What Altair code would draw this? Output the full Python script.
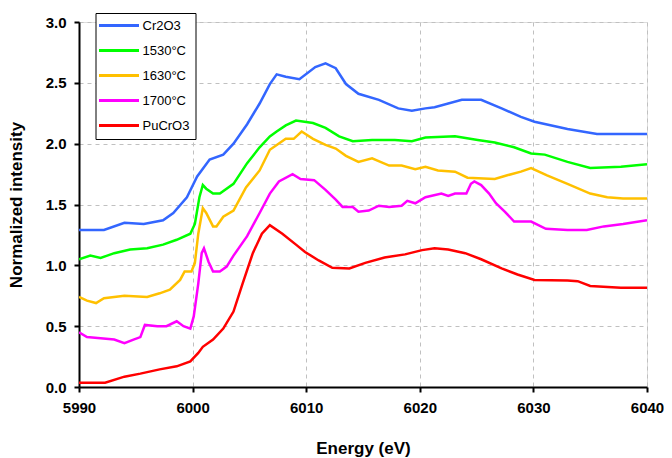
import altair as alt
import pandas as pd

series_names = ["Cr2O3", "1530°C", "1630°C", "1700°C", "PuCrO3"]
series_colors = ["#3366FF", "#00FF00", "#FFC000", "#FF00FF", "#FF0000"]

cr2o3_e = [5990, 5992.2, 5994, 5995.7, 5997.4, 5998.3, 5999.5, 6000.4, 6001.5, 6002.7, 6003.6, 6004.8,
           6005.9, 6006.8, 6007.4, 6008.2, 6009.4, 6010.8, 6011.7, 6012.6, 6013.5, 6014.6, 6016.4, 6018.1,
           6019.3, 6020.5, 6021.3, 6023.7, 6025.4, 6027.2, 6028.9, 6030.1, 6033, 6035.6, 6040]
cr2o3_v = [1.29, 1.29, 1.35, 1.34, 1.37, 1.43, 1.56, 1.73, 1.87, 1.91, 2.0, 2.16,
           2.33, 2.49, 2.57, 2.55, 2.53, 2.63, 2.66, 2.62, 2.49, 2.41, 2.36, 2.29,
           2.27, 2.29, 2.30, 2.36, 2.36, 2.29, 2.22, 2.18, 2.12, 2.08, 2.08]

t1530_e = [5990, 5991, 5991.9, 5993.1, 5994.5, 5996, 5997.4, 5998.6, 5999.8, 6000.2, 6000.6, 6000.9,
           6001.2, 6001.8, 6002.4, 6003.6, 6004.8, 6005.9, 6006.8, 6007.4, 6008.2, 6009.1, 6010.6, 6011.7,
           6012.9, 6014.1, 6015.8, 6017.8, 6019.3, 6020.5, 6023.1, 6025.1, 6026.6, 6028.3, 6029.8, 6031,
           6033, 6035, 6037.7, 6040]
t1530_v = [1.05, 1.08, 1.06, 1.10, 1.13, 1.14, 1.17, 1.21, 1.26, 1.34, 1.56, 1.66,
           1.63, 1.59, 1.59, 1.67, 1.84, 1.97, 2.06, 2.10, 2.15, 2.19, 2.17, 2.13,
           2.06, 2.02, 2.03, 2.03, 2.02, 2.05, 2.06, 2.03, 2.01, 1.97, 1.92, 1.91,
           1.85, 1.80, 1.81, 1.83]

t1630_e = [5990, 5990.7, 5991.5, 5992.2, 5994, 5996, 5997.1, 5998, 5998.9, 5999.3, 5999.9, 6000.2,
           6000.5, 6000.9, 6001.2, 6001.8, 6002.1, 6002.7, 6003.6, 6004.7, 6005.9, 6006.8, 6008.2, 6008.9,
           6009.6, 6010.6, 6011.7, 6012.6, 6013.5, 6014.6, 6015.8, 6017.3, 6018.4, 6019.6, 6020.5, 6021.6,
           6023.1, 6024.2, 6026.6, 6027.7, 6028.9, 6029.8, 6031.2, 6033, 6035, 6036.5, 6037.9, 6040]
t1630_v = [0.74, 0.71, 0.69, 0.73, 0.75, 0.74, 0.77, 0.80, 0.88, 0.95, 0.95, 1.02,
           1.26, 1.47, 1.43, 1.32, 1.32, 1.40, 1.45, 1.64, 1.78, 1.95, 2.04, 2.04,
           2.10, 2.04, 1.99, 1.96, 1.90, 1.85, 1.88, 1.82, 1.82, 1.79, 1.81, 1.78,
           1.77, 1.72, 1.71, 1.74, 1.77, 1.80, 1.74, 1.67, 1.59, 1.56, 1.55, 1.55]

t1700_e = [5990, 5990.7, 5991.9, 5993.1, 5994, 5994.8, 5995.4, 5995.8, 5996.9, 5997.7, 5998.6, 5999.2,
           5999.8, 6000.1, 6000.5, 6000.8, 6001, 6001.4, 6001.8, 6002.4, 6003, 6003.6, 6004.8, 6005.9,
           6006.8, 6007.6, 6008.8, 6009.5, 6010.7, 6011.7, 6012.6, 6013.2, 6014.1, 6014.6, 6015.5, 6016.4,
           6017.3, 6018.4, 6018.9, 6019.6, 6020.5, 6021.9, 6022.5, 6023.1, 6024.1, 6024.5, 6024.8, 6025.4,
           6026.1, 6026.7, 6027.5, 6028.3, 6029.8, 6031.1, 6033, 6034.7, 6036.2, 6037.9, 6040]
t1700_v = [0.45, 0.41, 0.40, 0.39, 0.36, 0.39, 0.41, 0.51, 0.50, 0.50, 0.54, 0.50,
           0.48, 0.58, 0.85, 1.10, 1.14, 1.03, 0.95, 0.95, 0.99, 1.08, 1.24, 1.43,
           1.59, 1.69, 1.75, 1.71, 1.70, 1.62, 1.54, 1.48, 1.48, 1.44, 1.45, 1.49,
           1.48, 1.49, 1.53, 1.51, 1.56, 1.59, 1.57, 1.59, 1.59, 1.67, 1.69, 1.66,
           1.59, 1.51, 1.44, 1.36, 1.36, 1.30, 1.29, 1.29, 1.32, 1.34, 1.37]

pucro3_e = [5990, 5992.3, 5994, 5995.4, 5997.1, 5998.6, 5999.8, 6000.5, 6000.9, 6001.8, 6002.7, 6003.6,
            6004.4, 6005.3, 6006.1, 6006.8, 6007.9, 6009.1, 6009.9, 6011.1, 6012.3, 6013.8, 6015.2, 6016.9,
            6018.7, 6020.2, 6021.3, 6022.5, 6024, 6025.4, 6027.2, 6028.6, 6030.1, 6033, 6033.9, 6035,
            6037.7, 6040]
pucro3_v = [0.035, 0.035, 0.085, 0.11, 0.145, 0.17, 0.21, 0.28, 0.33, 0.39, 0.48, 0.62,
            0.85, 1.10, 1.26, 1.33, 1.26, 1.17, 1.11, 1.04, 0.98, 0.975, 1.02, 1.065,
            1.09, 1.125, 1.14, 1.13, 1.10, 1.05, 0.975, 0.925, 0.88, 0.875, 0.87, 0.83,
            0.815, 0.815]

x_ticks = [5990, 6000, 6010, 6020, 6030, 6040]
y_ticks = [0.0, 0.5, 1.0, 1.5, 2.0, 2.5, 3.0]

frames = []
for name, es, vs in [("Cr2O3", cr2o3_e, cr2o3_v), ("1530°C", t1530_e, t1530_v),
                     ("1630°C", t1630_e, t1630_v), ("1700°C", t1700_e, t1700_v),
                     ("PuCrO3", pucro3_e, pucro3_v)]:
    frames.append(pd.DataFrame({"energy": es, "intensity": vs, "series": name}))
df = pd.concat(frames, ignore_index=True)

FONT = "Liberation Sans"

chart = alt.Chart(df).mark_line(strokeWidth=2.5, clip=True).encode(
    x=alt.X("energy:Q",
            scale=alt.Scale(domain=[5990, 6040], nice=False, zero=False),
            axis=alt.Axis(values=x_ticks, format="d", title="Energy (eV)",
                          titleFontSize=17, titleFontWeight="bold", titleFont=FONT, titlePadding=25,
                          labelFontSize=15, labelFontWeight="bold", labelFont=FONT, labelPadding=8,
                          labelFlush=False, labelOverlap=False,
                          labelColor="black", titleColor="black",
                          domainColor="black", domainWidth=2, tickColor="black", tickWidth=2, tickSize=5,
                          grid=True, gridColor="#c0c0c0", gridDash=[4, 4], gridWidth=1)),
    y=alt.Y("intensity:Q",
            scale=alt.Scale(domain=[0, 3], nice=False),
            axis=alt.Axis(values=y_ticks, format=".1f", title="Normalized intensity",
                          titleFontSize=17, titleFontWeight="bold", titleFont=FONT, titlePadding=20,
                          labelFontSize=15, labelFontWeight="bold", labelFont=FONT, labelPadding=8,
                          labelFlush=False, labelOverlap=False,
                          labelColor="black", titleColor="black",
                          domainColor="black", domainWidth=2, tickColor="black", tickWidth=2, tickSize=5,
                          grid=True, gridColor="#c0c0c0", gridDash=[4, 4], gridWidth=1)),
    color=alt.Color("series:N",
                    scale=alt.Scale(domain=series_names, range=series_colors),
                    sort=series_names,
                    legend=alt.Legend(orient="none", legendX=16.5, legendY=-9, title=None,
                                      symbolType="M-4,0H4", symbolSize=100, symbolStrokeWidth=3,
                                      symbolOffset=11, labelOffset=17,
                                      labelFontSize=13, labelFont=FONT, labelColor="black",
                                      strokeColor="black", fillColor="white", padding=6,
                                      rowPadding=11)),
).properties(
    width=568, height=365,
    autosize=alt.AutoSizeParams(type="none"),
    padding={"left": 71, "top": 14, "right": 17, "bottom": 70},
).configure_view(
    stroke="#909090", strokeWidth=1.5
).configure(background="white")

chart.save("out.html", embed_options={"renderer": "svg", "actions": False})
